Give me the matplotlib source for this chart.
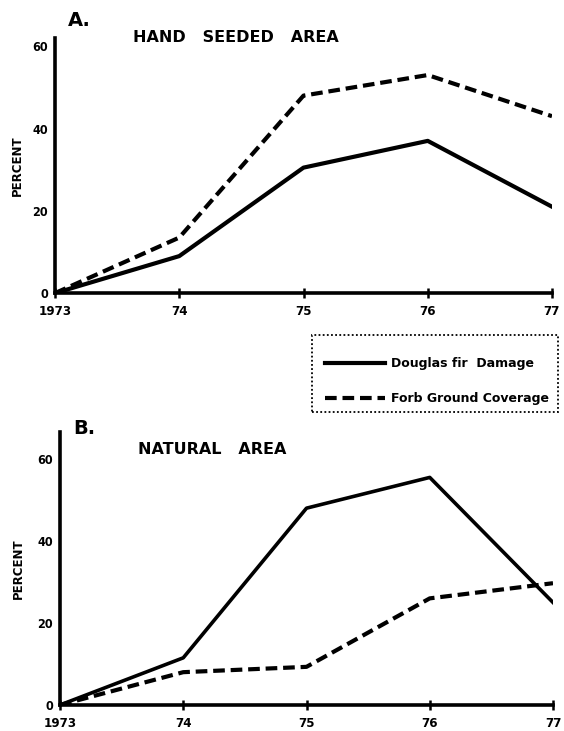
import matplotlib
matplotlib.use("Agg")
import matplotlib.pyplot as plt
from matplotlib.lines import Line2D
from matplotlib.patches import Rectangle

years = [1973, 1974, 1975, 1976, 1977]
year_labels = ["1973", "74", "75", "76", "77"]

a_fir_damage = [0, 9, 30.5, 37, 21]
a_forb_cover = [0, 13.5, 48, 53, 43]

b_fir_damage = [0, 11.5, 48, 55.5, 25]
b_forb_cover = [0, 8, 9.3, 26, 29.7]

a_yticks = [0, 20, 40, 60]
b_yticks = [0, 20, 40, 60]

plt.rcParams['font.family'] = ['DejaVu Sans']
plt.rcParams['font.weight'] = 'bold'

W, H = 564, 731
fig = plt.figure(figsize=(W / 100, H / 100), dpi=100)
axA = fig.add_axes([55 / W, 0.599, (552 - 55) / W, 0.349])
axB = fig.add_axes([60 / W, 0.0356, (553 - 60) / W, 0.373])

lw = 3.0
dash = (0, (2.8, 1.4))

def style(ax, ytop, yticks, lpad):
    ax.set_xlim(1973, 1977)
    ax.set_ylim(0, ytop)
    for s in ['top', 'right']:
        ax.spines[s].set_visible(False)
    for s in ['left', 'bottom']:
        ax.spines[s].set_linewidth(2.6)
    ax.set_xticks(years)
    ax.set_xticklabels(year_labels, fontsize=9.5, fontweight='bold', fontstretch='condensed')
    ax.set_yticks(yticks)
    ax.set_yticklabels([str(t) for t in yticks], fontsize=9, fontweight='bold', fontstretch='condensed')
    ax.tick_params(axis='x', direction='inout', length=7, width=1.8, pad=5)
    ax.tick_params(axis='y', length=0, pad=5)
    ax.set_ylabel("PERCENT", fontsize=8.5, fontweight='heavy', labelpad=lpad)

axA.plot(years, a_fir_damage, color='black', lw=lw)
axA.plot(years, a_forb_cover, color='black', lw=lw, linestyle=dash)
style(axA, 62, a_yticks, 6)

axB.plot(years, b_fir_damage, color='black', lw=2.6)
axB.plot(years, b_forb_cover, color='black', lw=lw, linestyle=dash)
style(axB, 66.5, b_yticks, 9)

fig.text(68 / W, 1 - 20 / H, "A.", fontsize=14, fontweight='heavy', ha='left', va='center')
fig.text(133 / W, 1 - 37 / H, "HAND   SEEDED   AREA", fontsize=11.5, fontweight='heavy',
         ha='left', va='center')
fig.text(73 / W, 1 - 428 / H, "B.", fontsize=14, fontweight='heavy', ha='left', va='center')
fig.text(138 / W, 1 - 450 / H, "NATURAL   AREA", fontsize=11.5, fontweight='heavy',
         ha='left', va='center')

handles = [Line2D([], [], color='black', lw=lw),
           Line2D([], [], color='black', lw=lw, linestyle=dash)]
leg = fig.legend(handles, ["Douglas fir  Damage", "Forb Ground Coverage"],
                 loc='center left', bbox_to_anchor=(325 / W, 1 - 381 / H),
                 handlelength=4.8, handletextpad=0.45,
                 labelspacing=1.75, borderpad=0, borderaxespad=0, frameon=False,
                 prop={'weight': 'bold', 'size': 9})
box = Rectangle((312 / W, 1 - 412 / H), (558 - 312) / W, (412 - 335) / H,
                transform=fig.transFigure, fill=False, edgecolor='black',
                linewidth=1.3, linestyle=(0, (1, 1.3)))
fig.add_artist(box)

fig.savefig("out.png", dpi=100)
